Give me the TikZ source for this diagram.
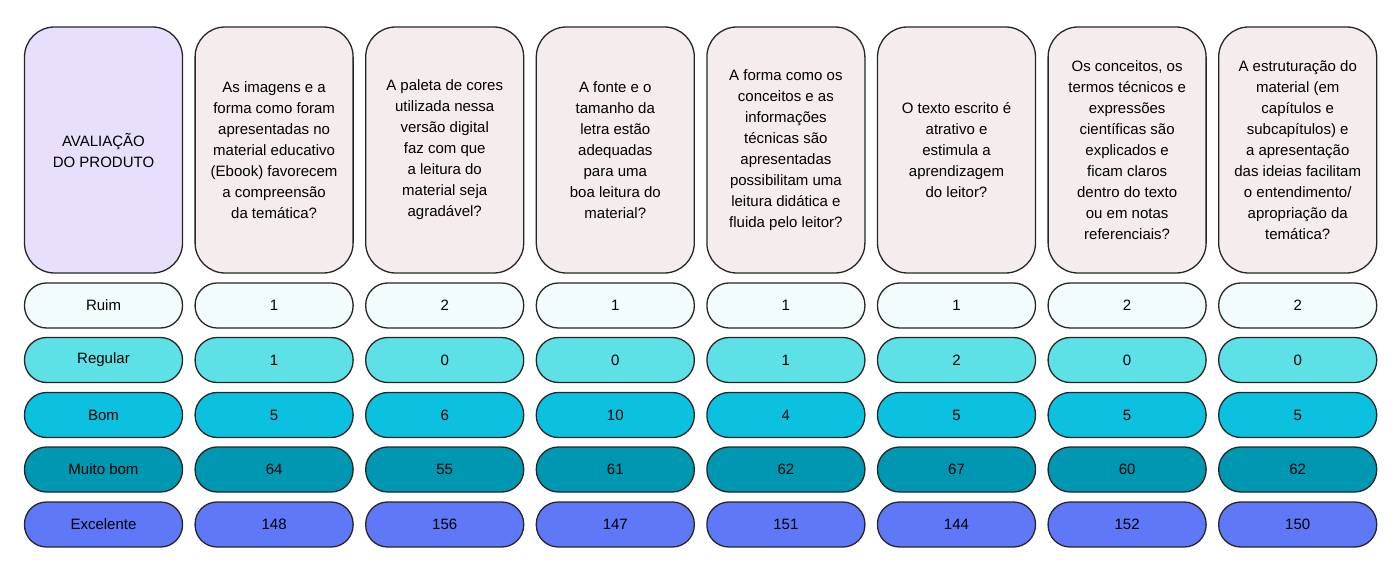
\documentclass[tikz,border=0pt]{standalone}
\usepackage{fontspec}
\setmainfont{Liberation Sans}
\definecolor{hdr}{HTML}{F5EDED}
\definecolor{hdr0}{HTML}{E8DFFC}
\definecolor{cR}{HTML}{F2FCFD}
\definecolor{cG}{HTML}{5DE1E6}
\definecolor{cB}{HTML}{0CC0DF}
\definecolor{cM}{HTML}{0097B2}
\definecolor{cE}{HTML}{5E78F8}
\begin{document}
\begin{tikzpicture}[x=1pt,y=-1pt,
  hbox/.style={draw=black!85,line width=1.3pt,rounded corners=30pt,minimum width=158pt,minimum height=246pt,align=center,font=\fontsize{15}{21}\selectfont,inner sep=0pt},
  rbox/.style={draw=black!85,line width=1.3pt,rounded corners=22pt,minimum width=158pt,minimum height=45pt,font=\fontsize{15}{18}\selectfont,inner sep=0pt}]
\useasboundingbox (0,0) rectangle (1397,564);
\def\cx#1{(24+79+#1*170.6)}
\node[hbox,fill=hdr0] (h0) at (103.5,150) {AVALIAÇÃO\\DO PRODUTO};
\foreach \i/\t in {1/{As imagens e a\\forma como foram\\apresentadas no\\material educativo\\(Ebook) favorecem\\a compreensão\\da temática?},
 2/{A paleta de cores\\utilizada nessa\\versão digital\\faz com que\\a leitura do\\material seja\\agradável?},
 3/{A fonte e o\\tamanho da\\letra estão\\adequadas\\para uma\\boa leitura do\\material?},
 4/{A forma como os\\conceitos e as\\informações\\técnicas são\\apresentadas\\possibilitam uma\\leitura didática e\\fluida pelo leitor?},
 5/{O texto escrito é\\atrativo e\\estimula a\\aprendizagem\\do leitor?},
 6/{Os conceitos, os\\termos técnicos e\\expressões\\científicas são\\explicados e\\ficam claros\\dentro do texto\\ou em notas\\referenciais?},
 7/{A estruturação do\\material (em\\capítulos e\\subcapítulos) e\\a apresentação\\das ideias facilitam\\o entendimento/\\apropriação da\\temática?}}
  \node[hbox,fill=hdr] (h\i) at ({103.5+\i*170.6},150) {\t};
\foreach \r/\y/\c/\lab/\vals in {
  1/305.5/cR/Ruim/{1,2,1,1,1,2,2},
  2/360/cG/Regular/{1,0,0,1,2,0,0},
  3/415/cB/Bom/{5,6,10,4,5,5,5},
  4/469.5/cM/Muito bom/{64,55,61,62,67,60,62},
  5/524.5/cE/Excelente/{148,156,147,151,144,152,150}}{
  \node[rbox,fill=\c] (r\r c0) at (103.5,\y) {\lab};
  \foreach \v [count=\k] in \vals
    \node[rbox,fill=\c] (r\r c\k) at ({103.5+\k*170.6},\y) {\v};
}
\end{tikzpicture}
\end{document}
